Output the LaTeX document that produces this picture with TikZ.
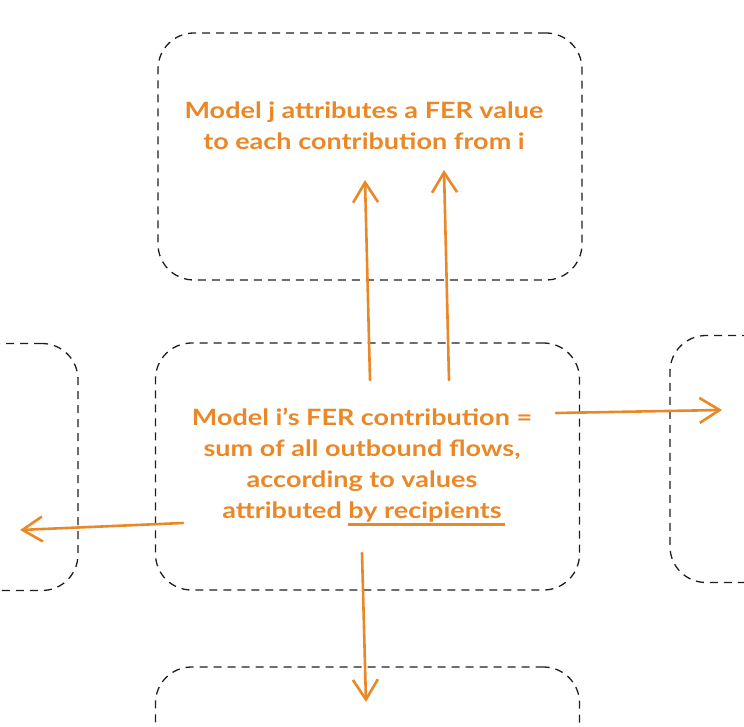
\documentclass[tikz,border=0pt]{standalone}
\usepackage{fontspec}
\setmainfont[FakeStretch=1.2]{Lato}
\usetikzlibrary{arrows.meta}
\definecolor{sketchorange}{RGB}{234,135,38}
\definecolor{sketchgray}{RGB}{30,30,30}
\newcommand\thickul[1]{\setbox0\hbox{#1}\rlap{\color{sketchorange}\rule[-7pt]{\dimexpr\wd0+3pt\relax}{2.4pt}}\box0}
\tikzset{
  dbox/.style={draw=sketchgray, dashed, dash pattern=on 8pt off 6pt, line width=1.3pt,
    rounded corners=36pt, minimum width=424pt, minimum height=247pt, inner sep=0pt},
  flow/.style={draw=sketchorange, line width=2.6pt, line cap=round,
    -{Straight Barb[length=20pt,width=25pt,line width=2.6pt]}},
  lbl/.style={text=sketchorange, align=center, font=\bfseries\fontsize{22.5}{31}\selectfont, inner sep=0pt}
}
\begin{document}
\begin{tikzpicture}[x=1pt,y=-1pt]
\useasboundingbox (0,0) rectangle (744,727);
% boxes
\node[dbox] (top) at (370,156.5) {};
\node[dbox] (mid) at (367.5,466.5) {};
\node[dbox] (left) at (-134,467) {};
\node[dbox] (right) at (882,459) {};
\node[dbox] (bottom) at (367.5,790.5) {};
% texts
\node[lbl] (ttext) at (364,126) {Model j attributes a FER value\\to each contribution from i};
\node[lbl] (mtext) at (362,467) {Model i's FER contribution =\\sum of all outbound flows,\\according to values\\attributed \thickul{by recipients}};
% coordinates for free ends
\coordinate (u1s) at (370,380);
\coordinate (u1e) at (365,180);
\coordinate (u2s) at (449,380);
\coordinate (u2e) at (444,170);
\coordinate (rs) at (556,413);
\coordinate (re) at (722,410);
\coordinate (ls) at (183,523);
\coordinate (le) at (20,530);
\coordinate (ds) at (362,553);
\coordinate (de) at (366,702);
% arrows
\draw[flow] (u1s) -- (u1e);
\draw[flow] (u2s) -- (u2e);
\draw[flow] (rs) -- (re);
\draw[flow] (ls) -- (le);
\draw[flow] (ds) -- (de);
\end{tikzpicture}
\end{document}
